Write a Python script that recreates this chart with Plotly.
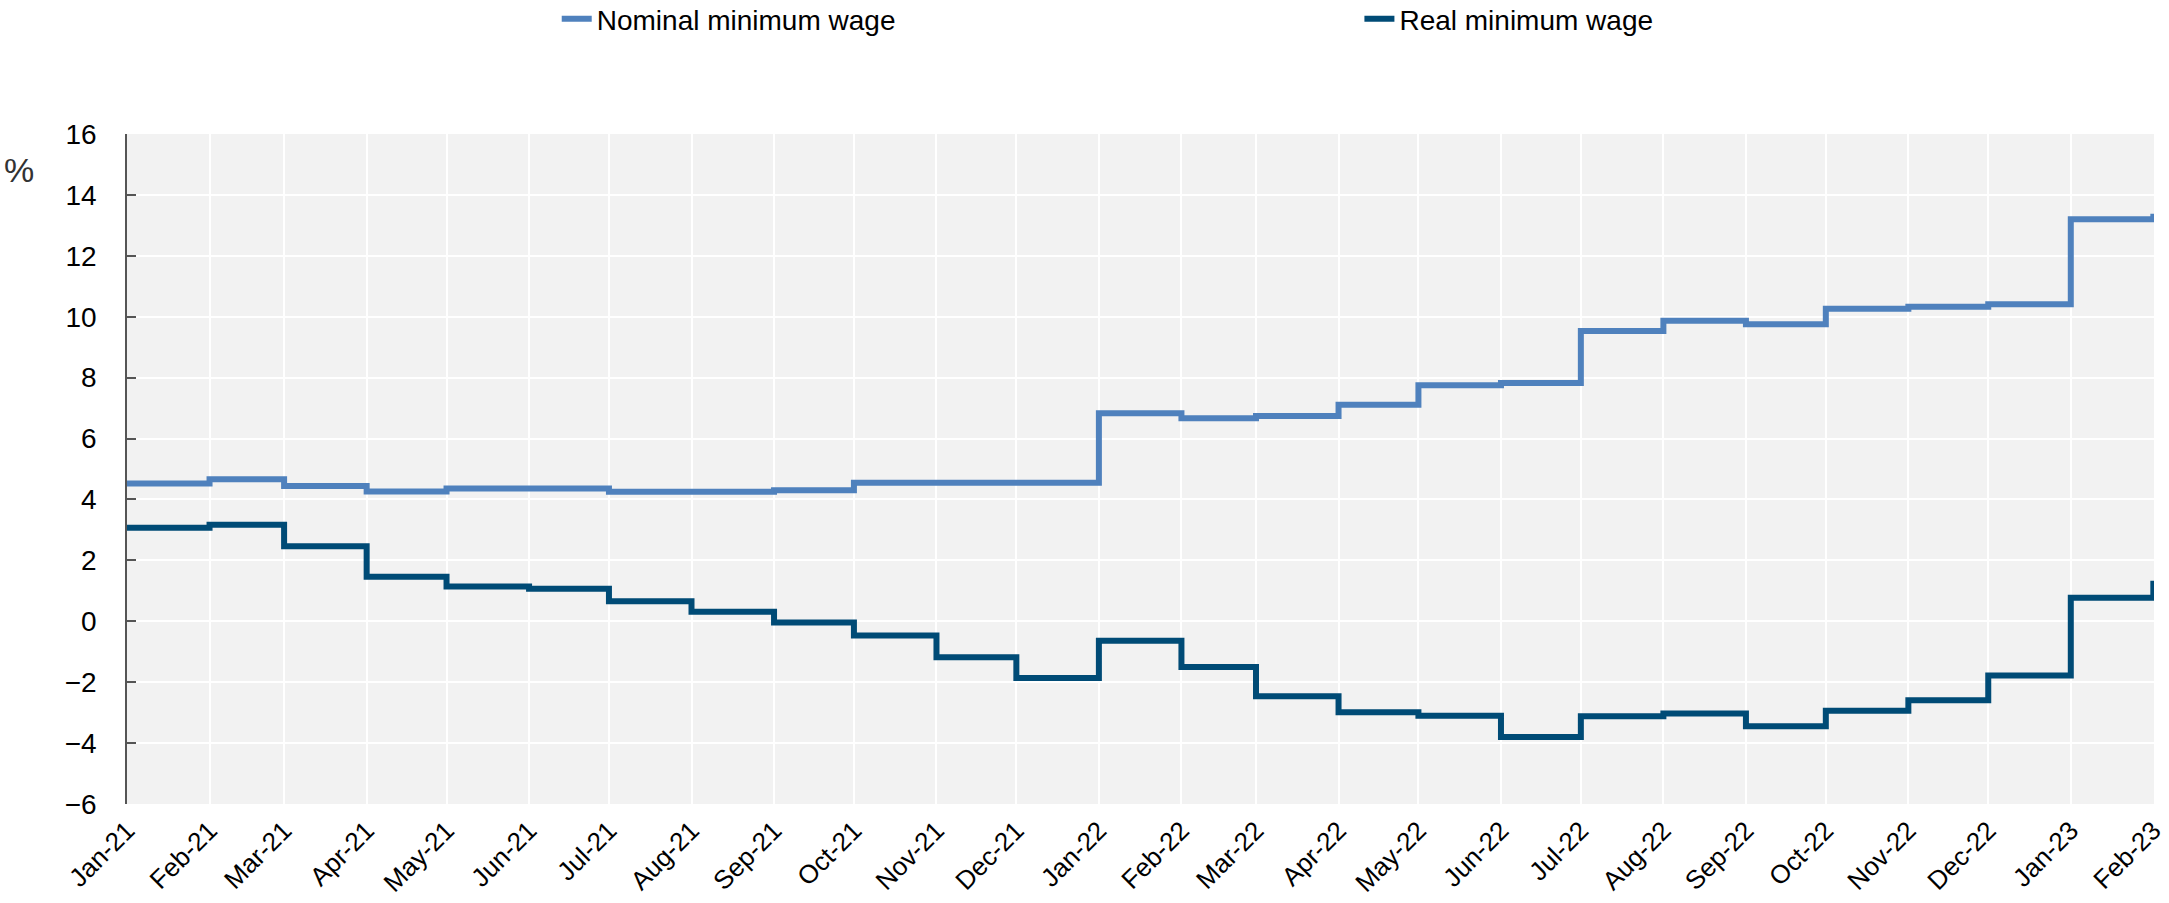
import plotly.graph_objects as go

months = ["2021-01-01", "2021-02-01", "2021-03-01", "2021-04-01", "2021-05-01", "2021-06-01",
          "2021-07-01", "2021-08-01", "2021-09-01", "2021-10-01", "2021-11-01", "2021-12-01",
          "2022-01-01", "2022-02-01", "2022-03-01", "2022-04-01", "2022-05-01", "2022-06-01",
          "2022-07-01", "2022-08-01", "2022-09-01", "2022-10-01", "2022-11-01", "2022-12-01",
          "2023-01-01", "2023-02-01"]

month_labels = ["Jan-21", "Feb-21", "Mar-21", "Apr-21", "May-21", "Jun-21", "Jul-21", "Aug-21",
                "Sep-21", "Oct-21", "Nov-21", "Dec-21", "Jan-22", "Feb-22", "Mar-22", "Apr-22",
                "May-22", "Jun-22", "Jul-22", "Aug-22", "Sep-22", "Oct-22", "Nov-22", "Dec-22",
                "Jan-23", "Feb-23"]

nominal = [4.52, 4.66, 4.44, 4.26, 4.36, 4.36, 4.25, 4.25, 4.30, 4.55, 4.55, 4.55,
           6.83, 6.67, 6.74, 7.11, 7.75, 7.82, 9.53, 9.87, 9.75, 10.26, 10.33, 10.41,
           13.20, 13.38]

real = [3.07, 3.17, 2.46, 1.46, 1.14, 1.07, 0.66, 0.31, -0.04, -0.47, -1.18, -1.86,
        -0.64, -1.50, -2.46, -2.99, -3.10, -3.80, -3.12, -3.03, -3.45, -2.94, -2.59, -1.78,
        0.77, 1.33]

names = ["Nominal minimum wage", "Real minimum wage"]
colors = ["#4F81BD", "#004B76"]
legends = ["legend", "legend2"]

FONT = "Liberation Sans Narrow, Arial Narrow, Liberation Sans, Arial, sans-serif"

fig = go.Figure()
for name, vals, col, lg in zip(names, [nominal, real], colors, legends):
    fig.add_trace(go.Scatter(x=months, y=vals, mode="lines", name=name, legend=lg,
                             line=dict(color=col, width=6, shape="hv")))

xrange = ["2021-01-01", "2023-02-01 06:00"]

legend_common = dict(orientation="h", y=1.1716, yanchor="middle", xanchor="left",
                     font=dict(family=FONT, size=28, color="#000000"),
                     bgcolor="rgba(0,0,0,0)", itemwidth=30)

fig.update_layout(
    width=2169, height=903,
    margin=dict(l=127, r=15, t=134, b=99, autoexpand=False),
    paper_bgcolor="white",
    plot_bgcolor="#F2F2F2",
    font=dict(family=FONT, size=28, color="#000000"),
    showlegend=True,
    legend=dict(x=0.212, **legend_common),
    legend2=dict(x=0.608, **legend_common),
    xaxis=dict(type="date", range=xrange, tickmode="array", tickvals=months,
               ticktext=month_labels, automargin=False, ticklabeloverflow="allow",
               tickangle=-45, showgrid=True, gridcolor="white",
               gridwidth=1.5, showline=False, zeroline=False, ticks="",
               ticklabelstandoff=5,
               tickfont=dict(family=FONT, size=26, color="#000000")),
    xaxis2=dict(type="date", range=xrange, tickmode="array", tickvals=months, overlaying="x",
                matches="x", anchor="free", position=6/22, side="bottom",
                showticklabels=False, showgrid=False, showline=True, linecolor="#444444",
                linewidth=1.5, ticks="inside", ticklen=9, tickcolor="#444444", tickwidth=1.5,
                zeroline=False),
    yaxis=dict(range=[-6, 16], dtick=2, tick0=0, showgrid=True, gridcolor="white",
               gridwidth=1.5, zeroline=False, showline=True, linecolor="#555555",
               linewidth=1.5, ticks="inside", ticklen=9, tickcolor="#555555", tickwidth=1.5,
               ticklabelstandoff=23, automargin=False,
               tickfont=dict(family=FONT, size=28, color="#000000")),
    annotations=[dict(text="%", xref="paper", yref="paper", x=-0.0535, y=0.946,
                      xanchor="center", yanchor="middle", showarrow=False,
                      font=dict(family=FONT, size=34, color="#333333"))],
)

fig.write_html("out.html", config={"displayModeBar": False},
               post_script="document.body.style.margin='0px';document.body.style.overflow='hidden';")
